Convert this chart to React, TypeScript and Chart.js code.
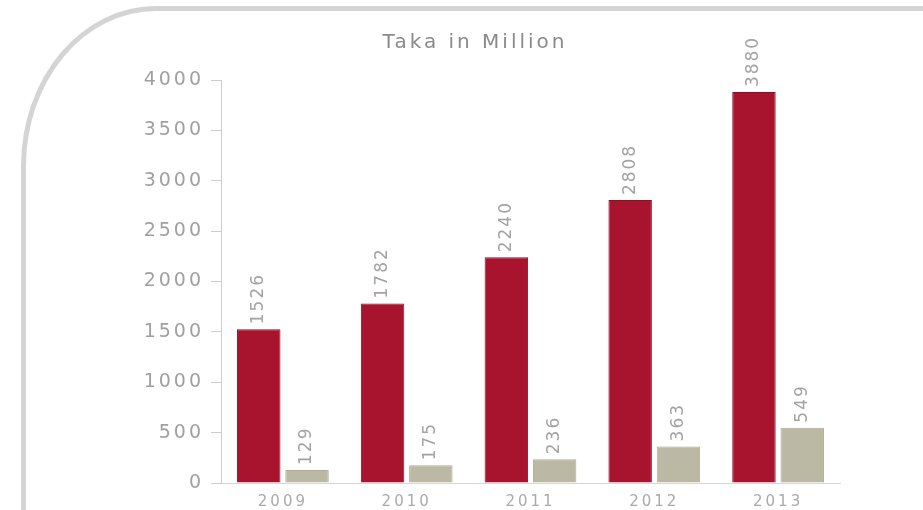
import React, { useEffect, useRef } from "react";
import { Chart, registerables } from "chart.js";

Chart.register(...registerables);

const years = ["2009", "2010", "2011", "2012", "2013"];
const seriesRed = [1526, 1782, 2240, 2808, 3880];
const seriesGray = [129, 175, 236, 363, 549];
const yTickValues = [0, 500, 1000, 1500, 2000, 2500, 3000, 3500, 4000];
const titleText = "Taka in Million";

const letterSpacingPlugin = {
  id: "letterSpacing",
  beforeDraw(chart: any) {
    (chart.ctx as any).letterSpacing = "3px";
  },
  afterDraw(chart: any) {
    (chart.ctx as any).letterSpacing = "0px";
  },
};

const valueLabelPlugin = {
  id: "valueLabels",
  afterDatasetsDraw(chart: any) {
    const ctx = chart.ctx;
    chart.data.datasets.forEach((ds: any, i: number) => {
      const meta = chart.getDatasetMeta(i);
      meta.data.forEach((bar: any, j: number) => {
        ctx.save();
        (ctx as any).letterSpacing = "2px";
        ctx.translate(bar.x, bar.y - 5);
        ctx.rotate(-Math.PI / 2);
        ctx.font = "17px 'DejaVu Sans'";
        ctx.fillStyle = "#a3a3a3";
        ctx.textAlign = "left";
        ctx.textBaseline = "middle";
        ctx.fillText(String(ds.data[j]), 0, 0);
        ctx.restore();
      });
    });
  },
};

export default function App() {
  const canvasRef = useRef<HTMLCanvasElement | null>(null);

  useEffect(() => {
    if (!canvasRef.current) return;
    const chart = new Chart(canvasRef.current, {
      type: "bar",
      data: {
        labels: years,
        datasets: [
          {
            label: "Series 1",
            data: seriesRed,
            backgroundColor: "#a8132e",
            borderColor: "#8a0f24",
            borderWidth: 1,
          },
          {
            label: "Series 2",
            data: seriesGray,
            backgroundColor: "#bbb9a3",
            borderColor: "#aeac96",
            borderWidth: 1,
          },
        ],
      },
      options: {
        animation: false,
        responsive: true,
        maintainAspectRatio: false,
        layout: { padding: { left: 110, right: 83, top: 0, bottom: 0 } },
        datasets: {
          bar: { categoryPercentage: 0.78, barPercentage: 0.9 },
        },
        plugins: {
          legend: { display: false },
          tooltip: { enabled: false },
          title: {
            display: true,
            text: titleText,
            color: "#8a8a8a",
            font: { family: "'DejaVu Sans'", size: 20, weight: "normal" },
            padding: { top: 31, bottom: 25 },
          },
        },
        scales: {
          x: {
            grid: { drawOnChartArea: false, drawTicks: false },
            border: { display: true, color: "#d6d6d6" },
            ticks: {
              color: "#aaaaaa",
              padding: 10,
              font: { family: "'DejaVu Sans'", size: 15 },
            },
          },
          y: {
            min: 0,
            max: 4000,
            afterBuildTicks: (scale: any) => {
              scale.ticks = yTickValues.map((v) => ({ value: v }));
            },
            afterFit: (scale: any) => {
              scale.width = 111;
            },
            grid: {
              drawOnChartArea: false,
              drawTicks: true,
              tickLength: 10,
              color: "#cccccc",
            },
            border: { display: true, color: "#cccccc" },
            ticks: {
              color: "#a0a0a0",
              padding: 7,
              font: { family: "'DejaVu Sans'", size: 19 },
              callback: (v: any) => String(v),
            },
          },
        },
      },
      plugins: [letterSpacingPlugin, valueLabelPlugin],
    });
    return () => chart.destroy();
  }, []);

  return (
    <div
      style={{
        position: "fixed",
        left: 0,
        top: 0,
        width: 923,
        height: 510,
        overflow: "hidden",
        background: "#ffffff",
      }}
    >
      <div
        style={{
          position: "absolute",
          left: 21,
          top: 6,
          width: 1000,
          height: 700,
          borderTop: "5px solid #d4d4d4",
          borderLeft: "5px solid #d4d4d4",
          borderTopLeftRadius: "135px 160px",
        }}
      />
      <div
        style={{
          position: "absolute",
          left: 0,
          top: 0,
          width: 923,
          height: 521,
        }}
      >
        <canvas ref={canvasRef} />
      </div>
    </div>
  );
}
